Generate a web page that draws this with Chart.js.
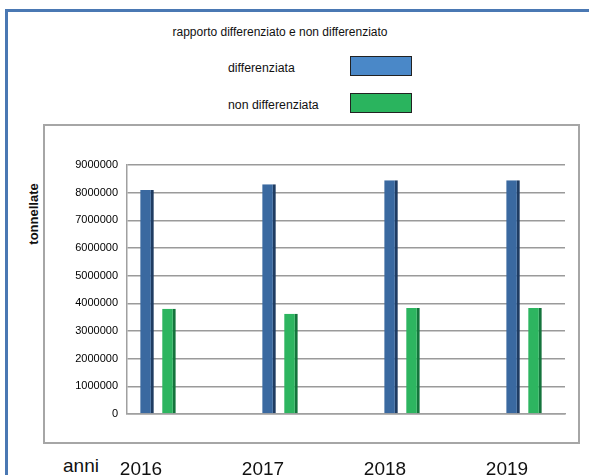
<!DOCTYPE html>
<html lang="it">
<head>
    <meta charset="UTF-8">
    <title>rapporto differenziato e non differenziato</title>
    <script src="https://cdn.jsdelivr.net/npm/chart.js"></script>
    <style>
        html, body { margin: 0; padding: 0; background: #fff; }
        body { width: 589px; height: 475px; overflow: hidden; position: relative; font-family: "Liberation Sans", Arial, sans-serif; }
        .frame { position: absolute; left: 5px; top: 9px; width: 700px; height: 600px; border-top: 3px solid #4a78b3; border-left: 3px solid #4a78b3; }
        .plotbox { position: absolute; left: 43px; top: 124px; width: 533px; height: 316px; border: 2px solid #a6a6a6; }
        #myChart { position: absolute; left: 0; top: 0; }
        .title { position: absolute; left: 0; width: 560px; top: 25px; text-align: center; font-size: 12px; color: #111; }
        .legend-item { position: absolute; left: 228px; font-size: 12.3px; color: #111; }
        .legend-item span.box { position: absolute; left: 122px; top: -5px; width: 60px; height: 18px; border: 1px solid #222; }
        .ytitle { position: absolute; left: 33px; top: 214px; transform: translate(-50%, -50%) rotate(-90deg); font-size: 13px; font-weight: bold; color: #111; white-space: nowrap; }
        .anni { position: absolute; left: 63px; top: 455px; font-size: 19px; color: #111; }
    </style>
</head>
<body>
    <div class="frame"></div>
    <div class="plotbox"></div>
    <div class="title">rapporto differenziato e non differenziato</div>
    <div id="legend"></div>
    <div class="ytitle">tonnellate</div>
    <div class="anni">anni</div>
    <canvas id="myChart" width="589" height="475"></canvas>

    <script>
        const anni = [2016, 2017, 2018, 2019];
        const differenziata = [8100000, 8300000, 8450000, 8450000];
        const nonDifferenziata = [3800000, 3620000, 3830000, 3830000];
        const yTicks = [0, 1000000, 2000000, 3000000, 4000000, 5000000, 6000000, 7000000, 8000000, 9000000];

        const ctx = document.getElementById('myChart').getContext('2d');
        const myChart = new Chart(ctx, {
            type: 'bar',
            data: {
                datasets: [{
                    label: 'differenziata',
                    data: anni.map((a, i) => ({ x: a, y: differenziata[i] })),
                    backgroundColor: '#3a69a0',
                    borderColor: '#1f3c62',
                    borderWidth: { left: 0, right: 3, top: 0, bottom: 0 },
                    legendColor: '#4a88c8',
                    categoryPercentage: 0.36,
                    barPercentage: 0.62
                }, {
                    label: 'non differenziata',
                    data: anni.map((a, i) => ({ x: a, y: nonDifferenziata[i] })),
                    backgroundColor: '#2db560',
                    borderColor: '#14743c',
                    borderWidth: { left: 0, right: 3, top: 0, bottom: 0 },
                    legendColor: '#2ab45e',
                    categoryPercentage: 0.36,
                    barPercentage: 0.62
                }]
            },
            options: {
                responsive: false,
                animation: false,
                layout: { padding: { left: 0, right: 24, top: 165, bottom: 0 } },
                plugins: {
                    legend: { display: false },
                    tooltip: { enabled: false }
                },
                scales: {
                    x: {
                        type: 'linear',
                        offset: false,
                        min: 2015.746,
                        max: 2019.336,
                        afterBuildTicks: s => { s.ticks = anni.map(a => ({ value: a })); },
                        afterFit: s => { s.height = 61; },
                        grid: { display: false, offset: false },
                        border: { color: '#a0a0a0', width: 1.5 },
                        ticks: {
                            callback: v => String(v),
                            labelOffset: -17,
                            padding: 36,
                            font: { family: 'Liberation Sans', size: 19 },
                            color: '#111'
                        }
                    },
                    y: {
                        min: 0,
                        max: 9000000,
                        afterBuildTicks: s => { s.ticks = yTicks.map(v => ({ value: v })); },
                        afterFit: s => { s.width = 127; },
                        grid: { color: '#9a9a9a', lineWidth: 1.5, drawTicks: false },
                        border: { color: '#a0a0a0', width: 1.5 },
                        ticks: {
                            callback: v => String(v),
                            padding: 9,
                            font: { family: 'Liberation Sans', size: 11 },
                            color: '#000'
                        }
                    }
                }
            }
        });

        // legenda: testo a sinistra, riquadro colorato a destra
        const legend = document.getElementById('legend');
        myChart.data.datasets.forEach((ds, i) => {
            const item = document.createElement('div');
            item.className = 'legend-item';
            item.style.top = (61 + i * 37) + 'px';
            item.textContent = ds.label;
            const box = document.createElement('span');
            box.className = 'box';
            box.style.background = ds.legendColor;
            item.appendChild(box);
            legend.appendChild(item);
        });
    </script>
</body>
</html>
